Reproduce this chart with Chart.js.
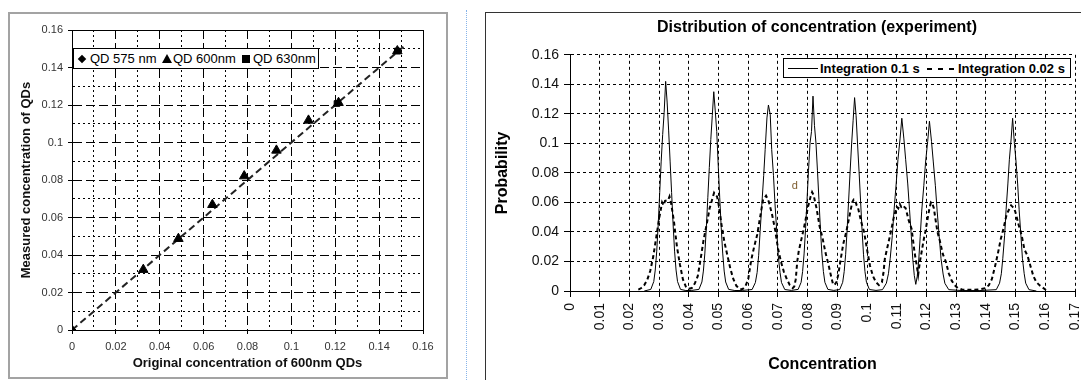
<!DOCTYPE html>
<html lang="en">
<head>
  <meta charset="UTF-8" />
  <title>QD concentration charts</title>
  <script src="https://cdn.jsdelivr.net/npm/chart.js"></script>
  <style>
    html, body {
      margin: 0;
      width: 1081px;
      height: 380px;
      overflow: hidden;
      background: #fff;
      font-family: Arial, "Liberation Sans", sans-serif;
    }
    .frame-left {
      position: absolute;
      left: 8px; top: 12px;
      width: 436px; height: 363px;
      border: 2px solid #a3a3a3;
    }
    .frame-right {
      position: absolute;
      left: 485px; top: 12px;
      width: 700px; height: 400px;
      border: 1px solid #333;
    }
    .sep {
      position: absolute;
      left: 466px; top: 10px;
      height: 370px;
      border-left: 1px dotted #86b4ea;
    }
    .box { position: absolute; }
    #boxLeft { left: 9px; top: 13px; width: 438px; height: 365px; }
    #boxRight { left: 487px; top: 13px; width: 660px; height: 367px; }

    .legend {
      position: absolute;
      background: #fff;
      border: 1px solid #000;
      box-sizing: border-box;
      color: #000;
    }
    .legend span { position: absolute; white-space: nowrap; }
    #legLeft { left: 73px; top: 48px; width: 246px; height: 21px; font-size: 13px; }
    #legLeft .txt { top: 2px; }
    .mk-diamond {
      width: 6px; height: 6px; background: #000;
      transform: rotate(45deg); top: 7px;
    }
    .mk-tri {
      width: 0; height: 0; top: 5px;
      border-left: 5px solid transparent;
      border-right: 5px solid transparent;
      border-bottom: 9px solid #000;
    }
    .mk-sq { width: 8px; height: 8px; background: #000; top: 6px; }

    #legRight { left: 783px; top: 58px; width: 288px; height: 20px; font-size: 13px; font-weight: bold; }
    #legRight .txt { top: 2px; }
    .ln-solid { height: 1px; background: #000; top: 9px; width: 30px; }
    .ln-dash {
      height: 2px; top: 9px; width: 30px;
      background: repeating-linear-gradient(to right, #000 0 5px, transparent 5px 11px);
    }
  </style>
</head>
<body>
  <div class="frame-left"></div>
  <div class="sep"></div>
  <div class="frame-right"></div>

  <div class="box" id="boxLeft"><canvas id="chartLeft"></canvas></div>
  <div class="box" id="boxRight"><canvas id="chartRight"></canvas></div>

  <div class="legend" id="legLeft">
    <span class="mk-diamond" style="left:5px"></span><span class="txt" style="left:16px">QD 575 nm</span>
    <span class="mk-tri" style="left:88px"></span><span class="txt" style="left:99px">QD 600nm</span>
    <span class="mk-sq" style="left:168px"></span><span class="txt" style="left:179px">QD 630nm</span>
  </div>

  <div class="legend" id="legRight">
    <span class="ln-solid" style="left:4px"></span><span class="txt" style="left:36px">Integration 0.1 s</span>
    <span class="ln-dash" style="left:143px"></span><span class="txt" style="left:174px">Integration 0.02 s</span>
  </div>

<script>
  // ---- left chart: measured vs original concentration ----
  const qd575X = [0];
  const qd575Y = [0];
  const qd600X = [0, 0.0325, 0.0485, 0.064, 0.0785, 0.0932, 0.1078, 0.1215, 0.1483];
  const qd600Y = [0, 0.0322, 0.0487, 0.0668, 0.0821, 0.0958, 0.1118, 0.1212, 0.1488];
  const qd630X = [0.1208, 0.1483];
  const qd630Y = [0.1208, 0.1488];
  const fitX = [0, 0.152];
  const fitY = [0, 0.152];

  // ---- right chart: distribution of concentration ----
  const conc01 = [0.0250,
    0.0272, 0.0282, 0.0287, 0.0292, 0.0297, 0.0302, 0.0307, 0.0312, 0.0317, 0.0322, 0.0327, 0.0332, 0.0337, 0.0342, 0.0347, 0.0352, 0.0357, 0.0362, 0.0372,
    0.0390, 0.0410,
    0.0434, 0.0444, 0.0449, 0.0454, 0.0459, 0.0464, 0.0469, 0.0474, 0.0479, 0.0484, 0.0489, 0.0494, 0.0499, 0.0504, 0.0509, 0.0514, 0.0519, 0.0524, 0.0534,
    0.0555, 0.0580,
    0.0613, 0.0624, 0.0630, 0.0635, 0.0640, 0.0646, 0.0652, 0.0657, 0.0663, 0.0668, 0.0674, 0.0679, 0.0685, 0.0690, 0.0696, 0.0701, 0.0707, 0.0712, 0.0723,
    0.0745,
    0.0768, 0.0778, 0.0783, 0.0788, 0.0793, 0.0798, 0.0803, 0.0808, 0.0813, 0.0818, 0.0823, 0.0828, 0.0833, 0.0838, 0.0843, 0.0848, 0.0853, 0.0858, 0.0868,
    0.0888,
    0.0908, 0.0918, 0.0923, 0.0928, 0.0933, 0.0938, 0.0943, 0.0948, 0.0953, 0.0958, 0.0963, 0.0968, 0.0973, 0.0978, 0.0983, 0.0988, 0.0993, 0.0998, 0.1008,
    0.1030,
    0.1052, 0.1065, 0.1072, 0.1078, 0.1085, 0.1091, 0.1098, 0.1104, 0.1111, 0.1117, 0.1124, 0.1130, 0.1137, 0.1143, 0.1149, 0.1154, 0.1159, 0.1164,
    0.1169, 0.1174, 0.1179, 0.1184, 0.1191, 0.1197, 0.1204, 0.1210, 0.1217, 0.1223, 0.1230, 0.1236, 0.1243, 0.1249, 0.1256, 0.1262, 0.1275,
    0.1320, 0.1380,
    0.1435, 0.1446, 0.1452, 0.1457, 0.1463, 0.1468, 0.1474, 0.1479, 0.1485, 0.1490, 0.1496, 0.1501, 0.1507, 0.1512, 0.1518, 0.1523, 0.1529, 0.1534, 0.1545,
    0.1570];
  const prob01 = [0,
    0.0011, 0.0064, 0.0142, 0.0270, 0.0454, 0.0667, 0.0880, 0.1060, 0.1210, 0.1420, 0.1280, 0.1090, 0.0880, 0.0667, 0.0454, 0.0270, 0.0142, 0.0064, 0.0011,
    0.0003, 0.0004,
    0.0011, 0.0061, 0.0135, 0.0257, 0.0432, 0.0635, 0.0837, 0.1026, 0.1188, 0.1350, 0.1220, 0.1080, 0.0850, 0.0635, 0.0432, 0.0257, 0.0135, 0.0061, 0.0011,
    0.0003, 0.0004,
    0.0010, 0.0057, 0.0126, 0.0239, 0.0403, 0.0592, 0.0781, 0.0958, 0.1172, 0.1260, 0.1197, 0.0958, 0.0781, 0.0592, 0.0403, 0.0239, 0.0126, 0.0057, 0.0010,
    0.0004,
    0.0011, 0.0059, 0.0132, 0.0251, 0.0422, 0.0620, 0.0818, 0.1003, 0.1080, 0.1320, 0.1120, 0.1003, 0.0818, 0.0620, 0.0422, 0.0251, 0.0132, 0.0059, 0.0011,
    0.0004,
    0.0010, 0.0059, 0.0131, 0.0249, 0.0419, 0.0616, 0.0812, 0.0996, 0.1153, 0.1310, 0.1190, 0.0996, 0.0812, 0.0616, 0.0419, 0.0249, 0.0131, 0.0059, 0.0010,
    0.0004,
    0.0009, 0.0053, 0.0117, 0.0222, 0.0374, 0.0550, 0.0725, 0.0889, 0.1030, 0.1170, 0.1030, 0.0889, 0.0725, 0.0550, 0.0370, 0.0215, 0.0105, 0.0045,
    0.0100, 0.0210, 0.0370, 0.0541, 0.0713, 0.0874, 0.1012, 0.1150, 0.1012, 0.0874, 0.0713, 0.0541, 0.0368, 0.0219, 0.0115, 0.0052, 0.0009,
    0.0003, 0.0003,
    0.0009, 0.0053, 0.0117, 0.0222, 0.0374, 0.0550, 0.0725, 0.0889, 0.1030, 0.1170, 0.1000, 0.0889, 0.0725, 0.0550, 0.0374, 0.0222, 0.0117, 0.0053, 0.0009,
    0];

  const conc002 = [
    0.0230, 0.0240, 0.0250, 0.0260, 0.0270, 0.0280, 0.0290, 0.0300, 0.0310, 0.0315, 0.0320, 0.0330, 0.0335, 0.0340, 0.0350, 0.0360, 0.0370, 0.0380, 0.0390, 0.0400,
    0.0410, 0.0420, 0.0430, 0.0440, 0.0450, 0.0460, 0.0470, 0.0480, 0.0485, 0.0490, 0.0495, 0.0500, 0.0510, 0.0520, 0.0530, 0.0540, 0.0550, 0.0560, 0.0570, 0.0580,
    0.0590, 0.0600, 0.0610, 0.0620, 0.0630, 0.0640, 0.0650, 0.0655, 0.0660, 0.0665, 0.0670, 0.0680, 0.0690, 0.0700, 0.0710, 0.0720, 0.0730, 0.0740, 0.0750,
    0.0755, 0.0760, 0.0765, 0.0770, 0.0780, 0.0790, 0.0800, 0.0805, 0.0810, 0.0815, 0.0820, 0.0830, 0.0840, 0.0850, 0.0860, 0.0870, 0.0880, 0.0885,
    0.0890, 0.0897, 0.0903, 0.0910, 0.0920, 0.0930, 0.0940, 0.0950, 0.0955, 0.0960, 0.0965, 0.0970, 0.0980, 0.0990, 0.1000, 0.1010, 0.1020, 0.1030, 0.1040,
    0.1050, 0.1055, 0.1060, 0.1070, 0.1080, 0.1090, 0.1100, 0.1105, 0.1110, 0.1115, 0.1120, 0.1130, 0.1140, 0.1150, 0.1160, 0.1165, 0.1172,
    0.1178, 0.1185, 0.1190, 0.1196, 0.1203, 0.1210, 0.1215, 0.1220, 0.1225, 0.1230, 0.1237, 0.1245, 0.1255, 0.1265, 0.1275, 0.1285, 0.1295, 0.1305,
    0.1320, 0.1340, 0.1360, 0.1380, 0.1400,
    0.1410, 0.1420, 0.1430, 0.1440, 0.1450, 0.1460, 0.1470, 0.1480, 0.1485, 0.1490, 0.1495, 0.1500, 0.1510, 0.1520, 0.1530, 0.1540, 0.1550, 0.1560, 0.1570,
    0.1580, 0.1590, 0.1600, 0.1607];
  const prob002 = [
    0.0010, 0.0020, 0.0040, 0.0075, 0.0135, 0.0230, 0.0360, 0.0490, 0.0600, 0.0580, 0.0610, 0.0615, 0.0640, 0.0600, 0.0470, 0.0300, 0.0180, 0.0080, 0.0030, 0.0015,
    0.0020, 0.0050, 0.0100, 0.0220, 0.0350, 0.0450, 0.0560, 0.0630, 0.0665, 0.0650, 0.0640, 0.0590, 0.0450, 0.0330, 0.0240, 0.0150, 0.0080, 0.0035, 0.0015, 0.0012,
    0.0030, 0.0080, 0.0210, 0.0300, 0.0380, 0.0500, 0.0620, 0.0630, 0.0645, 0.0625, 0.0600, 0.0520, 0.0420, 0.0290, 0.0200, 0.0130, 0.0080, 0.0040, 0.0020,
    0.0030, 0.0080, 0.0200, 0.0270, 0.0360, 0.0450, 0.0560, 0.0600, 0.0640, 0.0670, 0.0650, 0.0560, 0.0440, 0.0360, 0.0260, 0.0180, 0.0090, 0.0050,
    0.0040, 0.0060, 0.0110, 0.0200, 0.0320, 0.0400, 0.0500, 0.0600, 0.0620, 0.0615, 0.0580, 0.0560, 0.0470, 0.0400, 0.0280, 0.0170, 0.0100, 0.0060, 0.0040,
    0.0060, 0.0120, 0.0220, 0.0310, 0.0400, 0.0500, 0.0570, 0.0560, 0.0590, 0.0570, 0.0580, 0.0560, 0.0480, 0.0420, 0.0260, 0.0200, 0.0110,
    0.0200, 0.0280, 0.0340, 0.0400, 0.0480, 0.0560, 0.0600, 0.0590, 0.0560, 0.0490, 0.0400, 0.0340, 0.0250, 0.0200, 0.0120, 0.0070, 0.0040, 0.0020,
    0.0010, 0.0008, 0.0008, 0.0012, 0.0020,
    0.0040, 0.0080, 0.0160, 0.0250, 0.0350, 0.0430, 0.0520, 0.0560, 0.0580, 0.0570, 0.0560, 0.0530, 0.0450, 0.0380, 0.0280, 0.0240, 0.0170, 0.0100, 0.0060,
    0.0040, 0.0025, 0.0010, 0];

  // stray "d" mark in the plot
  const markText = 'd';
  const markX = 0.0757;
  const markY = 0.0712;

  const toPoints = (xs, ys) => xs.map((x, i) => ({ x: x, y: ys[i] }));
  const fmt = v => String(Number(v.toFixed(2)));
  const isMinor = v => Math.round(v * 100) % 2 !== 0;

  Chart.defaults.font.family = 'Arial, "Liberation Sans", sans-serif';
  Chart.defaults.animation = false;

  // left grid: long dashes on 0.02 steps, fine dots in between, solid box edge
  function leftDash(ctx) {
    if (!ctx.tick) return [];
    const v = ctx.tick.value;
    if (v <= 0 || v >= 0.159) return [];
    return isMinor(v) ? [2, 3] : [9, 4];
  }

  const leftAxis = (title, isX) => ({
    type: 'linear',
    min: 0,
    max: 0.16,
    afterFit: s => { if (isX) s.height = 48; else s.width = 63; },
    ticks: {
      stepSize: 0.01,
      autoSkip: false,
      maxRotation: 0,
      color: '#333',
      font: { size: 11 },
      padding: isX ? 6 : 5,
      callback: v => isMinor(v) ? '' : fmt(v)
    },
    grid: {
      color: '#000',
      lineWidth: 1,
      tickLength: 4,
      tickColor: ctx => (ctx.tick && isMinor(ctx.tick.value)) ? 'rgba(0,0,0,0)' : '#000'
    },
    border: { display: true, color: '#000', width: 1, dash: leftDash },
    title: {
      display: true,
      text: title,
      color: '#111',
      font: { size: 13, weight: 'bold' },
      padding: isX ? { top: 0, bottom: 7 } : { top: 10, bottom: 0 }
    }
  });

  new Chart(document.getElementById('chartLeft'), {
    type: 'scatter',
    data: {
      datasets: [
        { label: 'QD 575 nm', data: toPoints(qd575X, qd575Y), pointStyle: 'rectRot', pointRadius: 4,
          backgroundColor: '#000', borderColor: '#000' },
        { label: 'QD 600nm', data: toPoints(qd600X, qd600Y), pointStyle: 'triangle', pointRadius: 5.5,
          backgroundColor: '#000', borderColor: '#000' },
        { label: 'QD 630nm', data: toPoints(qd630X, qd630Y), pointStyle: 'rect', pointRadius: 4,
          backgroundColor: '#000', borderColor: '#000' },
        { label: 'fit', type: 'line', data: toPoints(fitX, fitY), showLine: true, pointRadius: 0,
          borderColor: '#222', borderWidth: 2, borderDash: [7, 4], fill: false }
      ]
    },
    options: {
      responsive: true,
      maintainAspectRatio: false,
      layout: { padding: { top: 17, right: 24, left: 0, bottom: 0 } },
      plugins: { legend: { display: false }, tooltip: { enabled: false } },
      scales: {
        x: leftAxis('Original concentration of 600nm QDs', true),
        y: leftAxis('Measured concentration of QDs', false)
      }
    }
  });

  // right grid: dotted lines everywhere except the axes themselves
  const rightDash = ctx => (ctx.tick && ctx.tick.value > 0) ? [3, 3] : [];

  const markPlugin = {
    id: 'markPlugin',
    afterDatasetsDraw(chart) {
      const { ctx, scales: { x, y } } = chart;
      ctx.save();
      ctx.fillStyle = '#7d5c2e';
      ctx.font = '11px Arial, "Liberation Sans", sans-serif';
      ctx.textAlign = 'center';
      ctx.textBaseline = 'middle';
      ctx.fillText(markText, x.getPixelForValue(markX), y.getPixelForValue(markY));
      ctx.restore();
    }
  };

  new Chart(document.getElementById('chartRight'), {
    type: 'scatter',
    data: {
      datasets: [
        { label: 'Integration 0.1 s', data: toPoints(conc01, prob01), showLine: true, pointRadius: 0,
          borderColor: '#000', borderWidth: 1, tension: 0 },
        { label: 'Integration 0.02 s', data: toPoints(conc002, prob002), showLine: true, pointRadius: 0,
          borderColor: '#000', borderWidth: 2, borderDash: [4, 3], tension: 0 }
      ]
    },
    options: {
      responsive: true,
      maintainAspectRatio: false,
      layout: { padding: 0 },
      plugins: {
        legend: { display: false },
        tooltip: { enabled: false },
        title: {
          display: true,
          text: 'Distribution of concentration (experiment)',
          color: '#000',
          font: { size: 16, weight: 'bold' },
          padding: { top: 5.4, bottom: 17.2 }
        }
      },
      scales: {
        x: {
          type: 'linear',
          min: 0,
          max: 0.17,
          afterFit: s => { s.height = 89; },
          ticks: {
            stepSize: 0.01,
            autoSkip: false,
            minRotation: 90,
            maxRotation: 90,
            color: '#111',
            font: { size: 14 },
            padding: 6,
            callback: v => fmt(v)
          },
          grid: { color: '#000', lineWidth: 1, tickLength: 6, tickColor: '#000' },
          border: { display: true, color: '#000', width: 1, dash: rightDash },
          title: {
            display: true,
            text: 'Concentration',
            color: '#000',
            font: { size: 16, weight: 'bold' },
            padding: { top: 0, bottom: 5.4 }
          }
        },
        y: {
          type: 'linear',
          min: 0,
          max: 0.16,
          afterFit: s => { s.width = 83; },
          ticks: {
            stepSize: 0.02,
            color: '#111',
            font: { size: 14 },
            padding: 5,
            callback: v => fmt(v)
          },
          grid: { color: '#000', lineWidth: 1, tickLength: 6, tickColor: '#000' },
          border: { display: true, color: '#000', width: 1, dash: rightDash },
          title: {
            display: true,
            text: 'Probability',
            color: '#000',
            font: { size: 16, weight: 'bold' },
            padding: { top: 6.4, bottom: 0 }
          }
        },
        // empty spacer on the right so the chart title centres over the page area
        ySpacer: {
          type: 'linear',
          position: 'right',
          display: true,
          afterFit: s => { s.width = 72; },
          ticks: { display: false },
          grid: { display: false, drawTicks: false },
          border: { display: false },
          title: { display: false }
        }
      }
    },
    plugins: [markPlugin]
  });
</script>
</body>
</html>
